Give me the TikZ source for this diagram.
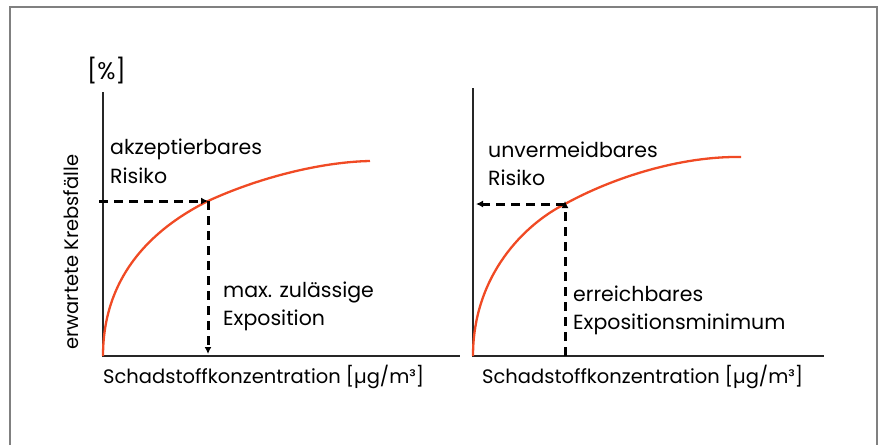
\documentclass[tikz,border=0pt]{standalone}
\usepackage{fontspec}
\setmainfont{Poppins}
\usetikzlibrary{arrows.meta}
\definecolor{curvec}{HTML}{F04A24}
\begin{document}
\begin{tikzpicture}[x=1pt,y=-1pt,
  axis/.style={line width=2.2pt,black!85},
  curve/.style={line width=2.3pt,curvec},
  guide/.style={line width=3pt,black,dash pattern=on 9pt off 6pt,-{Latex[length=7pt,width=7pt]}},
  lbl/.style={anchor=base west,inner sep=0pt,font=\fontsize{20.5}{24}\selectfont},
  axlbl/.style={anchor=base west,inner sep=0pt,font=\fontsize{19.5}{24}\selectfont},
  frame/.style={line width=1.3pt,black!50}]
\useasboundingbox (0,0) rectangle (879,445);
% frame
\draw[frame] (10,445) -- (10,7) -- (877,7) -- (877,445);
% left plot
\coordinate (lo) at (103,356);
\coordinate (ltop) at (103,92);
\coordinate (lend) at (460,356);
\coordinate (lp) at (208,201);
\coordinate (lc) at (370,161);
\coordinate (lh) at (99,201);
\coordinate (lv) at (208,354);
\draw[axis] (ltop) -- (lo) -- (lend);
\draw[curve] (lo) .. controls (103,270) and (160,225) .. (lp)
                  .. controls (258,178) and (320,162) .. (lc);
\draw[guide] (lh) -- (lp);
\draw[guide] (lp) -- (lv);
\node[anchor=base west,inner sep=0pt,font=\fontsize{24}{28}\selectfont] (pct) at (87,79) {[\%]};
\node[lbl] (akz) at (110,154) {akzeptierbares};
\node[lbl] (ris1) at (110,183) {Risiko};
\node[lbl] (max) at (223,297) {max. zulässige};
\node[lbl] (exp1) at (223,325) {Exposition};
\node[axlbl] (xl1) at (103,383) {Schadstoffkonzentration [µg/m³]};
\node[axlbl,rotate=90] (yl) at (78,350) {erwartete Krebsfälle};
% right plot
\coordinate (ro) at (473,356);
\coordinate (rtop) at (473,88);
\coordinate (rend) at (824,356);
\coordinate (rp) at (565,204);
\coordinate (rc) at (741,157);
\coordinate (rh) at (476,204);
\coordinate (rv) at (565,356);
\draw[axis] (rtop) -- (ro) -- (rend);
\draw[curve] (ro) .. controls (473,275) and (525,224) .. (rp)
                  .. controls (612,178) and (680,156) .. (rc);
\draw[guide] (rp) -- (rh);
\draw[guide] (rv) -- ([yshift=3pt]rp);
\node[lbl] (unv) at (488,157) {unvermeidbares};
\node[lbl] (ris2) at (488,185) {Risiko};
\node[lbl] (err) at (573,301) {erreichbares};
\node[lbl] (exp2) at (573,329) {Expositionsminimum};
\node[axlbl] (xl2) at (482,383) {Schadstoffkonzentration [µg/m³]};
\end{tikzpicture}
\end{document}
